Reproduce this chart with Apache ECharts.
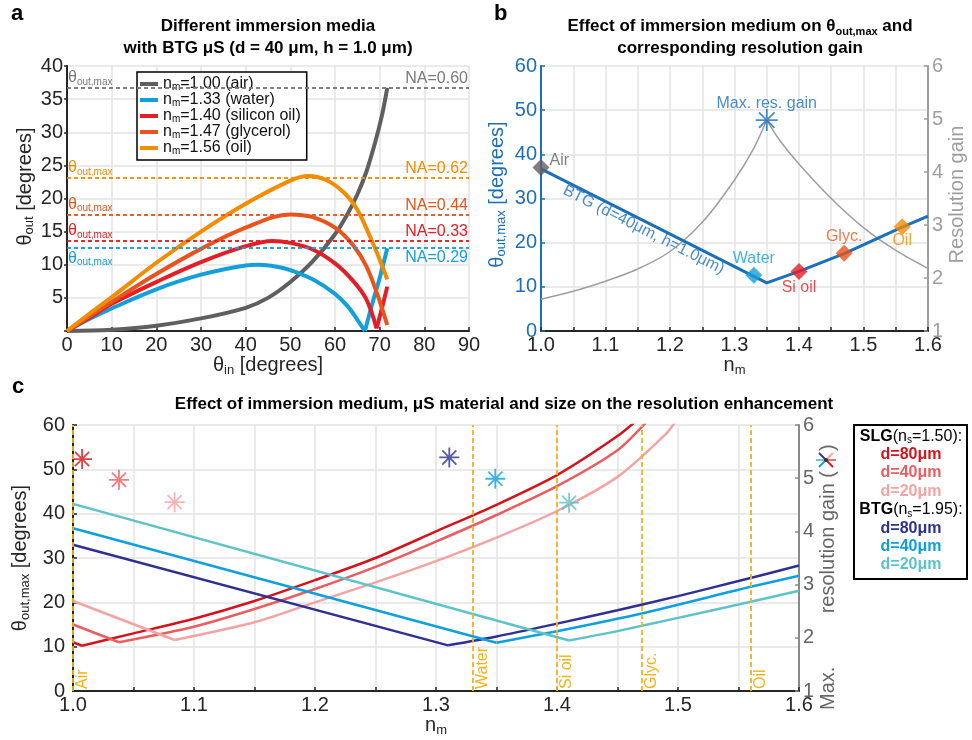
<!DOCTYPE html>
<html>
<head>
<meta charset="utf-8">
<title>Immersion media and resolution gain</title>
<script src="https://cdn.jsdelivr.net/npm/echarts@6/dist/echarts.min.js"></script>
<style>
  html, body { margin: 0; padding: 0; background: #fff; }
  #main { width: 972px; height: 740px; }
</style>
</head>
<body>
<div id="main"></div>
<script>
const FONT = '"Liberation Sans", Arial, Helvetica, sans-serif';

// ---- panel a : theta_out vs theta_in for each immersion medium ----
const aMedia = ['1.00 (air)', '1.33 (water)', '1.40 (silicon oil)', '1.47 (glycerol)', '1.56 (oil)'];
const aInAir = [0, 10, 20, 30, 40, 45, 50, 55, 60, 63, 65, 67, 69, 70.5, 71.7];
const aOutAir = [0, 0.2, 0.8, 1.9, 3.5, 5.0, 7.4, 10.5, 14.6, 17.9, 20.6, 24, 28.5, 32.5, 36.7];
const aInWater = [0, 5, 10, 20, 30, 40, 43, 47, 50, 55, 60, 63, 65.5, 66.7];
const aOutWater = [0, 1.8, 3.4, 6.3, 8.5, 9.9, 10, 9.7, 9.2, 7.8, 5.6, 3.6, 1.2, 0];
const aInWaterB = [66.7, 68.5, 70, 71.7];
const aOutWaterB = [0, 4.5, 8, 12.5];
const aInSil = [0, 5, 10, 20, 30, 40, 46, 50, 55, 60, 64, 67, 69.3];
const aOutSil = [0, 2, 4.1, 7.4, 10.4, 12.8, 13.6, 13.3, 12.3, 10.2, 7.6, 4.8, 0.4];
const aInSilB = [69.3, 70.5, 71.7];
const aOutSilB = [0.4, 3.4, 6.7];
const aInGly = [0, 5, 10, 20, 30, 40, 50, 55, 60, 64, 67, 69.5, 71.7];
const aOutGly = [0, 2.2, 4.4, 8.6, 12.4, 15.6, 17.6, 17.2, 15.6, 13, 9.8, 5.5, 0.9];
const aInOil = [0, 5, 10, 20, 30, 40, 50, 54, 58, 62, 65, 68, 70, 71.7];
const aOutOil = [0, 2.6, 5.1, 10.3, 15, 19.2, 22.7, 23.4, 22.8, 20.9, 18.3, 14, 10.8, 7.8];
const aMaxOut = [36.7, 12.5, 13.6, 17.6, 23.1];
const aNA = ['NA=0.60', 'NA=0.29', 'NA=0.33', 'NA=0.44', 'NA=0.62'];

// ---- panel b : BTG d=40um, theta_out,max and resolution gain vs n_m ----
const bN = [1.0, 1.35, 1.4, 1.47, 1.56, 1.6];
const bTh = [36.7, 10.9, 13.5, 17.5, 23.5, 26];
const bGainNL = [1.0, 1.05, 1.1, 1.15, 1.2, 1.25, 1.3, 1.33, 1.35];
const bGainL = [1.6, 1.75, 1.94, 2.17, 2.5, 3.05, 3.85, 4.45, 4.98];
const bGainNR = [1.35, 1.37, 1.4, 1.45, 1.5, 1.55, 1.6];
const bGainR = [4.98, 4.6, 4.15, 3.5, 2.95, 2.52, 2.18];
const mediumNames = ['Air', 'Water', 'Si oil', 'Glyc.', 'Oil'];
const mediumN = [1.0, 1.33, 1.4, 1.47, 1.56];
const bMedTh = [37, 12.6, 13.5, 17.6, 23.6];
const bPeak = [1.35, 4.98];
const bLabelAt = [1.159, 22.9];

// ---- panel c : six microsphere configurations ----
const cNames = ['SLG d=80', 'SLG d=40', 'SLG d=20', 'BTG d=80', 'BTG d=40', 'BTG d=20'];
const cN = [
  [1.0, 1.0075, 1.05, 1.1, 1.15, 1.2, 1.25, 1.3, 1.35, 1.4, 1.45, 1.47],
  [1.0, 1.038, 1.1, 1.15, 1.2, 1.25, 1.3, 1.35, 1.4, 1.45, 1.475],
  [1.0, 1.084, 1.15, 1.2, 1.25, 1.3, 1.35, 1.4, 1.45, 1.49, 1.5],
  [1.0, 1.31, 1.35, 1.4, 1.45, 1.5, 1.55, 1.6],
  [1.0, 1.35, 1.4, 1.47, 1.56, 1.6],
  [1.0, 1.41, 1.45, 1.5, 1.55, 1.6]
];
const cTh = [
  [11, 10.2, 13, 16.3, 20.3, 25, 30, 36, 42, 48.7, 57.5, 62],
  [15, 11, 14.5, 18.5, 23, 28, 33.7, 39.7, 46.2, 54.3, 61],
  [20.3, 11.5, 15.5, 20, 24.5, 29.3, 34.6, 40.6, 48.3, 58, 61.5],
  [33, 10.3, 12.3, 15.2, 18.2, 21.4, 24.8, 28.3],
  [36.7, 10.9, 13.5, 17.5, 23.5, 26],
  [42.2, 11.4, 13.5, 16.5, 19.5, 22.6]
];
const cPeakN = [1.0075, 1.038, 1.084, 1.311, 1.349, 1.41];
const cPeakGain = [5.36, 4.97, 4.55, 5.39, 4.99, 4.54];

// colours
const mediumColors = ['#5f5f5f', '#139fda', '#e41e26', '#e8541c', '#f28c00'];
const cColors = ['#d3141c', '#ea5d60', '#f4a3a3', '#2e3192', '#0ea0dd', '#5cc3c8'];
const btgBlue = '#1c6fb9';
const gold = '#f0b41c';
const STAR = 'path://M10,0L10,20M0,10L20,10M2.93,2.93L17.07,17.07M2.93,17.07L17.07,2.93';

const pairs = (xs, ys) => xs.map((x, i) => [x, ys[i]]);
const tenth = v => Math.abs(v * 10 - Math.round(v * 10)) < 1e-6 ? v.toFixed(1) : '';

function nameRich(color) {
  return {
    t: { fontFamily: FONT, fontSize: 20, lineHeight: 22, color: color },
    s: { fontFamily: FONT, fontSize: 13, lineHeight: 2, verticalAlign: 'bottom', color: color }
  };
}
const gridLine = { show: true, lineStyle: { color: '#e3e3e3', width: 1.5 } };
const darkLine = { lineStyle: { color: '#262626', width: 2 } };

function maxLine(val, na, color, below) {
  return {
    symbol: ['none', 'none'], silent: true,
    lineStyle: { type: [4, 3], width: 1.5, color: color },
    data: [
      { yAxis: val, label: {
          position: below ? 'insideStartBottom' : 'insideStartTop', distance: 1,
          formatter: () => '{t|θ}{s|out,max}',
          rich: {
            t: { fontFamily: FONT, fontSize: 16, lineHeight: 18, color: color },
            s: { fontFamily: FONT, fontSize: 10, lineHeight: 2, verticalAlign: 'bottom', color: color }
          } } },
      { yAxis: val, label: {
          position: below ? 'insideEndBottom' : 'insideEndTop', distance: 1,
          formatter: () => na, color: color, fontFamily: FONT, fontSize: 16 } }
    ]
  };
}

function aLine(i, xs, ys, withMark) {
  const s = {
    type: 'line', name: aMedia[i], xAxisIndex: 0, yAxisIndex: 0,
    data: pairs(xs, ys), symbol: 'none', smooth: 0.35, silent: true,
    lineStyle: { width: 4, color: mediumColors[i] }, itemStyle: { color: mediumColors[i] }
  };
  if (withMark) s.markLine = maxLine(aMaxOut[i], aNA[i], i === 0 ? '#7a7a7a' : mediumColors[i], i === 1);
  return s;
}

const series = [
  aLine(0, aInAir, aOutAir, true),
  aLine(1, aInWater, aOutWater, true),
  aLine(1, aInWaterB, aOutWaterB, false),
  aLine(2, aInSil, aOutSil, true),
  aLine(2, aInSilB, aOutSilB, false),
  aLine(3, aInGly, aOutGly, true),
  aLine(4, aInOil, aOutOil, true)
];

// panel b
const bLabelPos = [
  { position: 'right', distance: 0, offset: [0, -7] },
  { position: 'top', distance: 0 },
  { position: 'bottom', distance: 0 },
  { position: 'top', distance: 0 },
  { position: 'bottom', distance: -3 }
];
series.push(
  { type: 'line', xAxisIndex: 1, yAxisIndex: 2, data: pairs(bGainNL, bGainL), symbol: 'none', smooth: 0.3,
    silent: true, lineStyle: { width: 1.5, color: '#9e9e9e' } },
  { type: 'line', xAxisIndex: 1, yAxisIndex: 2, data: pairs(bGainNR, bGainR), symbol: 'none', smooth: 0.3,
    silent: true, lineStyle: { width: 1.5, color: '#9e9e9e' } },
  { type: 'line', xAxisIndex: 1, yAxisIndex: 1, data: pairs(bN, bTh), symbol: 'none', silent: true,
    lineStyle: { width: 3, color: btgBlue } },
  { type: 'scatter', xAxisIndex: 1, yAxisIndex: 1, symbol: 'diamond', symbolSize: 17, silent: true, z: 4,
    data: mediumN.map((n, i) => ({
      value: [n, bMedTh[i]], name: mediumNames[i],
      itemStyle: { color: mediumColors[i] },
      label: Object.assign({ show: true, formatter: '{b}', color: mediumColors[i], fontFamily: FONT, fontSize: 16 }, bLabelPos[i])
    })) },
  { type: 'scatter', xAxisIndex: 1, yAxisIndex: 2, symbol: STAR, symbolSize: 22, silent: true, z: 4,
    data: [bPeak],
    itemStyle: { color: btgBlue, borderColor: btgBlue, borderWidth: 1.8 },
    label: { show: true, position: 'top', distance: -3, formatter: 'Max. res. gain', color: btgBlue, fontFamily: FONT, fontSize: 16 } },
  { type: 'scatter', xAxisIndex: 1, yAxisIndex: 1, symbolSize: 1, silent: true,
    data: [bLabelAt], itemStyle: { color: 'rgba(0,0,0,0)' },
    label: { show: true, position: 'inside', rotate: -26.8, formatter: 'BTG (d=40μm, h=1.0μm)',
      color: btgBlue, fontFamily: FONT, fontSize: 16 } }
);

// panel c: straight falling part up to the minimum, smooth rising part after it
cN.forEach((ns, i) => {
  const pts = pairs(ns, cTh[i]);
  let k = 0;
  cTh[i].forEach((v, j) => { if (v < cTh[i][k]) k = j; });
  const base = {
    type: 'line', name: cNames[i], xAxisIndex: 2, yAxisIndex: 3,
    symbol: 'none', silent: true, lineStyle: { width: 2.5, color: cColors[i] }
  };
  const fall = Object.assign({}, base, { data: pts.slice(0, k + 1) });
  const rise = Object.assign({}, base, { data: pts.slice(k), smooth: 0.25 });
  if (i === 0) {
    fall.markLine = {
      symbol: ['none', 'none'], silent: true,
      lineStyle: { type: [5, 3], width: 1.8, color: gold },
      label: { position: 'insideStartBottom', distance: 2, formatter: '{b}', color: gold, fontFamily: FONT, fontSize: 16 },
      data: mediumN.map((n, m) => ({ xAxis: n, name: mediumNames[m] }))
    };
  }
  series.push(fall, rise);
});
series.push({
  type: 'scatter', xAxisIndex: 2, yAxisIndex: 4, symbol: STAR, symbolSize: 20, silent: true, z: 4,
  data: cPeakN.map((n, i) => ({ value: [n, cPeakGain[i]], itemStyle: { color: cColors[i], borderColor: cColors[i], borderWidth: 1.8 } }))
});

const xTenth = (grid) => ({
  gridIndex: grid, type: 'value', min: 1.0, max: 1.6, interval: 0.05,
  axisLine: Object.assign({ onZero: false }, darkLine),
  axisTick: { inside: true, length: 4, lineStyle: { color: '#262626', width: 1.5 } },
  axisLabel: { formatter: tenth, fontFamily: FONT, fontSize: 20, color: '#262626', margin: 4 },
  splitLine: gridLine,
  name: '{t|n}{s|m}', nameLocation: 'middle', nameGap: grid === 2 ? 23 : 20,
  nameTextStyle: { rich: nameRich('#262626') }
});

const option = {
  animation: false,
  backgroundColor: '#fff',
  textStyle: { fontFamily: FONT },
  title: [
    { text: 'a', left: 11, top: 3, padding: 0, textStyle: { fontFamily: FONT, fontSize: 22, fontWeight: 'bold', color: '#000' } },
    { text: 'b', left: 494, top: 3, padding: 0, textStyle: { fontFamily: FONT, fontSize: 22, fontWeight: 'bold', color: '#000' } },
    { text: 'c', left: 12, top: 376, padding: 0, textStyle: { fontFamily: FONT, fontSize: 22, fontWeight: 'bold', color: '#000' } },
    { text: 'Different immersion media\nwith BTG μS (d = 40 μm, h = 1.0 μm)', left: 268, top: 15, padding: 0, textAlign: 'center',
      textStyle: { fontFamily: FONT, fontSize: 17, fontWeight: 'bold', lineHeight: 22, color: '#000' } },
    { text: 'Effect of immersion medium on θ{s|out,max} and\ncorresponding resolution gain', left: 740, top: 15, padding: 0, textAlign: 'center',
      textStyle: { fontFamily: FONT, fontSize: 17, fontWeight: 'bold', lineHeight: 22, color: '#000',
        rich: { s: { fontFamily: FONT, fontSize: 11, fontWeight: 'bold', lineHeight: 2, verticalAlign: 'bottom', color: '#000' } } } },
    { text: 'Effect of immersion medium, μS material and size on the resolution enhancement', left: 504, top: 393, padding: 0, textAlign: 'center',
      textStyle: { fontFamily: FONT, fontSize: 17, fontWeight: 'bold', lineHeight: 22, color: '#000' } }
  ],
  legend: {
    data: aMedia, left: 137, top: 72, orient: 'vertical', icon: 'rect', itemWidth: 18, itemHeight: 4, itemGap: 0,
    padding: [4, 6, 4, 3], borderColor: '#000', borderWidth: 1.5, backgroundColor: '#fff', selectedMode: false,
    formatter: name => '{a|n}{s|m}{a|=' + name + '}',
    textStyle: {
      fontFamily: FONT, fontSize: 16, color: '#111',
      rich: {
        a: { fontFamily: FONT, fontSize: 16, lineHeight: 16, color: '#111' },
        s: { fontFamily: FONT, fontSize: 10, lineHeight: 1, verticalAlign: 'bottom', color: '#111' }
      }
    }
  },
  grid: [
    { left: 67, top: 66, width: 402, height: 265, outerBoundsMode: 'none' },
    { left: 541, top: 66, width: 387, height: 265, outerBoundsMode: 'none' },
    { left: 73, top: 425, width: 726, height: 266, outerBoundsMode: 'none' }
  ],
  xAxis: [
    { gridIndex: 0, type: 'value', min: 0, max: 90, interval: 10,
      axisLine: Object.assign({ onZero: false }, darkLine),
      axisTick: { inside: true, length: 4, lineStyle: { color: '#262626', width: 1.5 } },
      axisLabel: { fontFamily: FONT, fontSize: 20, color: '#262626', margin: 4 },
      splitLine: gridLine,
      name: '{t|θ}{s|in}{t| [degrees]}', nameLocation: 'middle', nameGap: 20,
      nameTextStyle: { rich: nameRich('#262626') } },
    xTenth(1),
    xTenth(2)
  ],
  yAxis: [
    { gridIndex: 0, type: 'value', min: 0, max: 40, interval: 5,
      axisLine: Object.assign({ show: true, onZero: false }, darkLine),
      axisTick: { show: true, inside: false, length: 3, lineStyle: { color: '#262626', width: 1.5 } },
      axisLabel: { formatter: v => v === 0 ? '' : v, fontFamily: FONT, fontSize: 20, color: '#262626', margin: 4 },
      splitLine: gridLine,
      name: '{t|θ}{s|out}{t| [degrees]}', nameLocation: 'middle', nameGap: 31, nameRotate: 90,
      nameTextStyle: { rich: nameRich('#262626'), padding: [0, 0, 0, 24] } },
    { gridIndex: 1, type: 'value', min: 0, max: 60, interval: 10,
      axisLine: { show: true, onZero: false, lineStyle: { color: btgBlue, width: 2 } },
      axisTick: { show: true, inside: true, length: 4, lineStyle: { color: btgBlue, width: 1.5 } },
      axisLabel: { fontFamily: FONT, fontSize: 20, color: btgBlue, margin: 4 },
      splitLine: gridLine,
      name: '{t|θ}{s|out,max}{t| [degrees]}', nameLocation: 'middle', nameGap: 33, nameRotate: 90,
      nameTextStyle: { rich: nameRich(btgBlue), padding: [0, 0, 0, 8] } },
    { gridIndex: 1, type: 'value', position: 'right', min: 1, max: 6, interval: 1,
      axisLine: { show: true, onZero: false, lineStyle: { color: '#9e9e9e', width: 2 } },
      axisTick: { show: true, inside: true, length: 4, lineStyle: { color: '#9e9e9e', width: 1.5 } },
      axisLabel: { fontFamily: FONT, fontSize: 20, color: '#9e9e9e', margin: 4 },
      splitLine: { show: false },
      name: 'Resolution gain', nameLocation: 'middle', nameGap: 16, nameRotate: 90,
      nameTextStyle: { fontFamily: FONT, fontSize: 20, color: '#9e9e9e', padding: [0, 0, 0, 8] } },
    { gridIndex: 2, type: 'value', min: 0, max: 60, interval: 10,
      axisLine: Object.assign({ show: true, onZero: false }, darkLine),
      axisTick: { show: true, inside: true, length: 4, lineStyle: { color: '#262626', width: 1.5 } },
      axisLabel: { fontFamily: FONT, fontSize: 20, color: '#262626', margin: 8 },
      splitLine: gridLine,
      name: '{t|θ}{s|out,max}{t| [degrees]}', nameLocation: 'middle', nameGap: 37, nameRotate: 90,
      nameTextStyle: { rich: nameRich('#262626') } },
    { gridIndex: 2, type: 'value', position: 'right', min: 1, max: 6, interval: 1,
      axisLine: { show: true, onZero: false, lineStyle: { color: '#8a8a8a', width: 2 } },
      axisTick: { show: true, inside: true, length: 4, lineStyle: { color: '#8a8a8a', width: 1.5 } },
      axisLabel: { fontFamily: FONT, fontSize: 20, color: '#666', margin: 4 },
      splitLine: { show: false } }
  ],
  series: series,
  graphic: [
    // legend of panel c
    { type: 'rect', z: 10, shape: { x: 854, y: 425, width: 113, height: 154 },
      style: { fill: '#fff', stroke: '#000', lineWidth: 2 } },
    { type: 'text', z: 11, x: 911, y: 427,
      style: {
        text: '{h|SLG}{n|(n}{sb|s}{n|=1.50):}\n{c0|d=80μm}\n{c1|d=40μm}\n{c2|d=20μm}\n' +
              '{h|BTG}{n|(n}{sb|s}{n|=1.95):}\n{c3|d=80μm}\n{c4|d=40μm}\n{c5|d=20μm}',
        align: 'center', verticalAlign: 'top',
        rich: {
          h: { fontFamily: FONT, fontSize: 16, fontWeight: 'bold', lineHeight: 18.4, fill: '#000' },
          n: { fontFamily: FONT, fontSize: 16, lineHeight: 18.4, fill: '#000' },
          sb: { fontFamily: FONT, fontSize: 10, lineHeight: 2, verticalAlign: 'bottom', fill: '#000' },
          c0: { fontFamily: FONT, fontSize: 16, fontWeight: 'bold', lineHeight: 18.4, fill: cColors[0] },
          c1: { fontFamily: FONT, fontSize: 16, fontWeight: 'bold', lineHeight: 18.4, fill: cColors[1] },
          c2: { fontFamily: FONT, fontSize: 16, fontWeight: 'bold', lineHeight: 18.4, fill: cColors[2] },
          c3: { fontFamily: FONT, fontSize: 16, fontWeight: 'bold', lineHeight: 18.4, fill: cColors[3] },
          c4: { fontFamily: FONT, fontSize: 16, fontWeight: 'bold', lineHeight: 18.4, fill: cColors[4] },
          c5: { fontFamily: FONT, fontSize: 16, fontWeight: 'bold', lineHeight: 18.4, fill: cColors[5] }
        }
      } },
    // right axis name of panel c
    { type: 'text', x: 828, y: 710, rotation: Math.PI / 2,
      style: { text: 'Max.', align: 'left', verticalAlign: 'middle', fontFamily: FONT, fontSize: 20, fill: '#666' } },
    { type: 'text', x: 828, y: 471, rotation: Math.PI / 2,
      style: { text: 'resolution gain (', align: 'right', verticalAlign: 'middle', fontFamily: FONT, fontSize: 20, fill: '#666' } },
    { type: 'text', x: 828, y: 451, rotation: Math.PI / 2,
      style: { text: ')', align: 'left', verticalAlign: 'middle', fontFamily: FONT, fontSize: 20, fill: '#666' } },
    { type: 'group', x: 826, y: 460, children: [
      { type: 'line', shape: { x1: 0, y1: 0, x2: -7, y2: -7 }, style: { stroke: cColors[3], lineWidth: 1.8 } },
      { type: 'line', shape: { x1: 0, y1: 0, x2: 7, y2: -7 }, style: { stroke: cColors[2], lineWidth: 1.8 } },
      { type: 'line', shape: { x1: 0, y1: 0, x2: -10, y2: 0 }, style: { stroke: cColors[5], lineWidth: 1.8 } },
      { type: 'line', shape: { x1: 0, y1: 0, x2: 10, y2: 0 }, style: { stroke: cColors[1], lineWidth: 1.8 } },
      { type: 'line', shape: { x1: 0, y1: 0, x2: -7, y2: 7 }, style: { stroke: cColors[4], lineWidth: 1.8 } },
      { type: 'line', shape: { x1: 0, y1: 0, x2: 7, y2: 7 }, style: { stroke: cColors[0], lineWidth: 1.8 } },
      { type: 'circle', shape: { cx: 0, cy: 0, r: 2 }, style: { fill: '#333' } }
    ] }
  ]
};

const chart = echarts.init(document.getElementById('main'));
chart.setOption(option);
</script>
</body>
</html>
